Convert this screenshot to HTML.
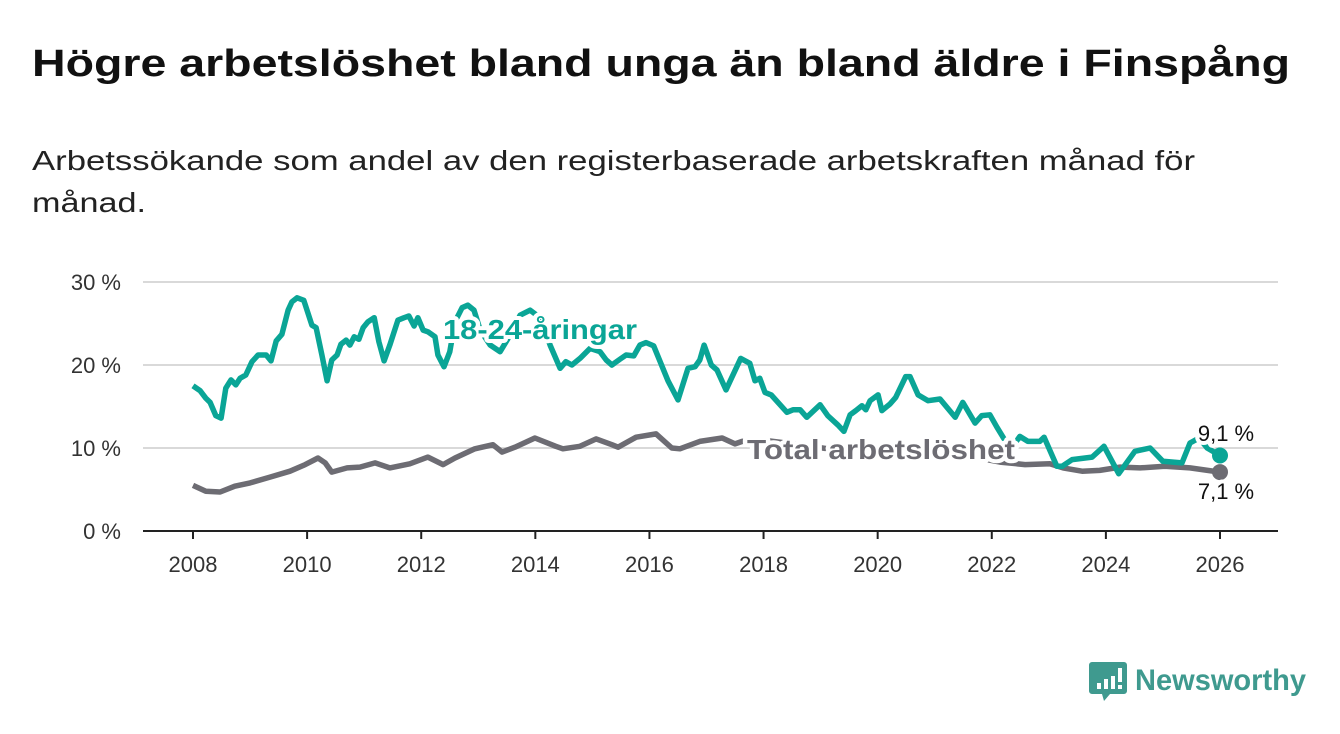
<!DOCTYPE html>
<html><head><meta charset="utf-8"><style>
html,body{margin:0;padding:0;background:#fff;}
svg{display:block;font-family:"Liberation Sans",sans-serif;}
</style></head><body>
<svg id="chart" width="1340" height="734" viewBox="0 0 1340 734">
<text x="32" y="76" font-size="38" font-weight="bold" fill="#111" textLength="1258" lengthAdjust="spacingAndGlyphs">Högre arbetslöshet bland unga än bland äldre i Finspång</text>
<text x="32" y="170" font-size="28" fill="#222" textLength="1163" lengthAdjust="spacingAndGlyphs">Arbetssökande som andel av den registerbaserade arbetskraften månad för</text>
<text x="32" y="212" font-size="28" fill="#222" textLength="114" lengthAdjust="spacingAndGlyphs">månad.</text>
<g id="grid"></g>
<g id="lines"></g>
<g id="labels"></g>
<g>
<path d="M1092 662 h32 a3 3 0 0 1 3 3 v26 a3 3 0 0 1 -3 3 h-14 l-6 7 l-2 -7 h-10 a3 3 0 0 1 -3 -3 v-26 a3 3 0 0 1 3 -3z" fill="#3f9a8f"/>
<rect x="1097" y="683" width="4" height="6" fill="#fff"/><rect x="1104" y="679" width="4" height="10" fill="#fff"/><rect x="1111" y="676" width="4" height="13" fill="#fff"/><rect x="1118" y="668" width="4" height="14" fill="#fff"/><rect x="1118" y="685" width="4" height="4" fill="#fff"/>
<text x="1135" y="690" font-size="30" font-weight="bold" fill="#3f9a8f" textLength="171" lengthAdjust="spacingAndGlyphs">Newsworthy</text>
</g>
</svg>
<script>
const yearTicks=[2008,2010,2012,2014,2016,2018,2020,2022,2024,2026];
const yTicks=[0,10,20,30];
const youthMonths=[0,1.5,2.7,3.6,4.8,5.9,6.9,8.0,9.0,9.9,11.1,12.4,13.7,15.4,16.4,17.5,18.7,20.0,20.8,21.9,23.3,25.0,25.9,27.1,28.2,29.2,30.3,31.1,32.2,33.0,33.9,34.9,35.8,36.8,38.1,39.1,40.2,41.4,43.1,44.4,45.4,46.5,47.3,48.4,49.4,50.9,51.5,52.8,54.0,55.1,56.6,57.8,59.1,60.4,62.5,64.6,66.7,68.8,70.9,73.0,75.1,77.2,78.4,79.7,81.4,83.5,85.6,86.9,88.1,89.8,91.1,92.7,94.0,95.3,96.9,99.9,102.0,104.1,105.6,106.6,107.5,109.0,110.2,112.1,115.2,117.1,118.2,119.2,120.3,121.6,124.9,126.2,127.7,129.1,131.9,133.5,135.6,136.9,138.2,139.4,140.7,141.5,142.4,144.1,144.9,146.6,147.8,149.9,150.8,152.5,154.6,157.1,160.3,161.9,164.5,165.9,167.6,169.1,170.6,172.2,173.9,175.6,178.1,179.0,181.7,182.8,184.9,189.1,191.6,194.7,198.1,201.3,204.0,208.0,209.7,211.6,213.3,216.0];
const youthValues=[17.5,16.9,16.0,15.5,13.9,13.6,17.2,18.2,17.6,18.4,18.8,20.4,21.2,21.2,20.5,22.9,23.7,26.6,27.6,28.1,27.8,24.8,24.5,21.2,18.1,20.6,21.2,22.5,23.0,22.4,23.4,23.1,24.5,25.2,25.7,22.8,20.5,22.4,25.4,25.7,25.9,24.7,25.7,24.2,24.0,23.4,21.2,19.8,21.6,25.2,26.9,27.2,26.6,24.2,22.4,21.6,23.6,26.0,26.6,25.7,22.4,19.6,20.4,20.0,20.8,22.0,21.6,20.6,20.0,20.7,21.2,21.1,22.4,22.7,22.3,18.1,15.8,19.6,19.8,20.6,22.4,20.0,19.4,17.0,20.8,20.2,18.1,18.4,16.7,16.4,14.3,14.6,14.6,13.7,15.2,13.9,12.8,12.0,14.0,14.5,15.1,14.6,15.7,16.4,14.5,15.3,16.1,18.6,18.6,16.4,15.7,15.9,13.7,15.5,13.0,13.9,14.0,12.5,11.1,10.0,11.4,10.8,10.8,11.3,7.8,7.8,8.6,8.9,10.2,6.9,9.6,10.0,8.4,8.2,10.6,11.2,10.0,9.1];
const totalMonths=[0,2.7,5.7,8.8,12.0,16.2,20.4,23.6,26.3,27.8,29.2,32.4,35.1,38.3,41.4,45.6,49.4,52.6,55.1,59.3,63.1,65.0,67.7,71.9,76.3,77.8,81.4,84.8,88.1,89.4,93.2,97.4,100.7,102.4,106.6,111.3,114.0,115.5,119.2,127.7,138.2,144.5,152.9,161.3,169.7,175.0,180.2,183.0,187.0,190.7,195.0,199.2,204.4,209.7,216.0];
const totalValues=[5.5,4.8,4.7,5.4,5.8,6.5,7.2,8.0,8.8,8.2,7.1,7.6,7.7,8.2,7.6,8.1,8.9,8.0,8.8,9.9,10.4,9.5,10.1,11.2,10.2,9.9,10.2,11.1,10.4,10.1,11.3,11.7,10.0,9.9,10.8,11.2,10.5,10.8,11.0,10.4,9.5,10.0,9.8,9.2,8.3,8.0,8.1,7.6,7.2,7.3,7.7,7.6,7.8,7.6,7.1];
const NS='http://www.w3.org/2000/svg';
const X0=193,X1=1220,Y0=531,Y30=282;
const xYear=y=>X0+(y-2008)*(X1-X0)/18;
const xMonth=m=>xYear(2008+m/12);
const yScale=v=>Y0-v*(Y0-Y30)/30;
function mk(tag,attrs,parent){const e=document.createElementNS(NS,tag);for(const k in attrs)e.setAttribute(k,attrs[k]);parent.appendChild(e);return e;}
const grid=document.getElementById('grid'),lines=document.getElementById('lines'),labels=document.getElementById('labels');
yTicks.forEach(t=>{
  if(t>0){const l=mk('line',{x1:143,x2:1278,y1:yScale(t),y2:yScale(t),stroke:'#d9d9d9','stroke-width':2},grid);
  
  }
  const tx=mk('text',{x:121,y:yScale(t)+8,'font-size':22,fill:'#333','text-anchor':'end'},grid);
  tx.textContent=t+' %';
  
  
});
const ax=mk('line',{x1:143,x2:1278,y1:Y0,y2:Y0,stroke:'#222','stroke-width':2},grid);


yearTicks.forEach(y=>{
  const tk=mk('line',{x1:xYear(y),x2:xYear(y),y1:Y0,y2:Y0+8,stroke:'#222','stroke-width':2},grid);
  
  
  const tx=mk('text',{x:xYear(y),y:572,'font-size':22,fill:'#333','text-anchor':'middle'},grid);
  tx.textContent=y;
  
  
});
function path(ms,vs){return ms.map((m,i)=>(i?'L':'M')+xMonth(m).toFixed(1)+' '+yScale(vs[i]).toFixed(1)).join(' ');}
const tl=mk('path',{d:path(totalMonths,totalValues),fill:'none',stroke:'#6d6c73','stroke-width':5.5,'stroke-linejoin':'round'},lines);


const yl=mk('path',{d:path(youthMonths,youthValues),fill:'none',stroke:'#0aa596','stroke-width':5.5,'stroke-linejoin':'round'},lines);


const lastT=totalValues.length-1,lastY=youthValues.length-1;
const td=mk('circle',{cx:xMonth(totalMonths[lastT]),cy:yScale(totalValues[lastT]),r:8,fill:'#6d6c73'},lines);


const yd=mk('circle',{cx:xMonth(youthMonths[lastY]),cy:yScale(youthValues[lastY]),r:8,fill:'#0aa596'},lines);


function lab(txt,x,y,size,fill,bold,name,anchor,len){
  const a={x:x,y:y,'font-size':size,fill:fill,'font-weight':bold?'bold':'normal',stroke:'#fff','stroke-width':8,'paint-order':'stroke','stroke-linejoin':'round','text-anchor':anchor||'start'};
  if(len){a.textLength=len;a.lengthAdjust='spacingAndGlyphs';}
  const t=mk('text',a,labels);
  t.textContent=txt;
  
  
}
lab('18-24-åringar',443,339,28,'#0aa596',true,'youth-series-label','start',194);
lab('Total arbetslöshet',747,459,28,'#6d6c73',true,'total-series-label','start',268);
lab(String(youthValues[lastY]).replace('.',',')+' %',1226,441,22,'#111',false,'youth-end-value','middle');
lab(String(totalValues[lastT]).replace('.',',')+' %',1226,499,22,'#111',false,'total-end-value','middle');
</script>
</body></html>
